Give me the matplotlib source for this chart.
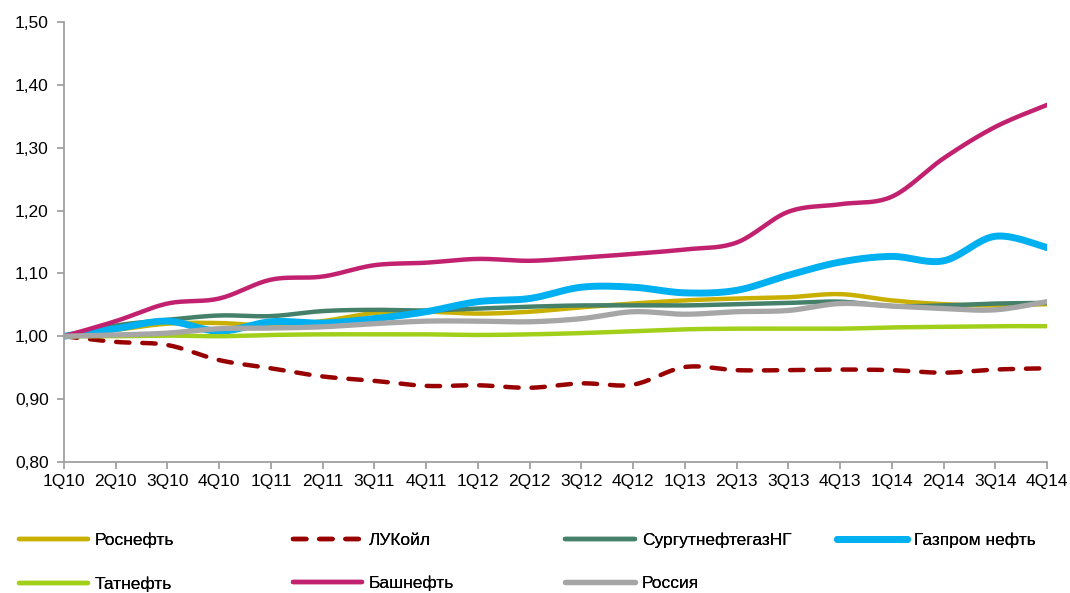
import numpy as np
import matplotlib
matplotlib.use('Agg')
import matplotlib.pyplot as plt
from matplotlib import font_manager

# Данные (индекс, 1Q10 = 1,00)
quarters = ['1Q10', '2Q10', '3Q10', '4Q10', '1Q11', '2Q11', '3Q11', '4Q11',
            '1Q12', '2Q12', '3Q12', '4Q12', '1Q13', '2Q13', '3Q13', '4Q13',
            '1Q14', '2Q14', '3Q14', '4Q14']

rosneft = [1.00, 1.010, 1.020, 1.021, 1.017, 1.024, 1.037, 1.039, 1.036, 1.039,
           1.046, 1.052, 1.057, 1.060, 1.062, 1.067, 1.057, 1.051, 1.049, 1.051]
lukoil = [1.00, 0.991, 0.986, 0.962, 0.949, 0.936, 0.929, 0.921, 0.922, 0.918,
          0.925, 0.923, 0.951, 0.946, 0.946, 0.947, 0.946, 0.942, 0.947, 0.949]
surgut = [1.00, 1.017, 1.026, 1.033, 1.032, 1.040, 1.042, 1.041, 1.044, 1.047,
          1.049, 1.049, 1.049, 1.051, 1.053, 1.055, 1.048, 1.049, 1.052, 1.053]
gazprom = [1.00, 1.012, 1.024, 1.008, 1.023, 1.021, 1.028, 1.039, 1.055, 1.060,
           1.078, 1.078, 1.069, 1.073, 1.097, 1.118, 1.127, 1.120, 1.159, 1.141]
tatneft = [1.00, 1.000, 1.001, 1.000, 1.002, 1.003, 1.003, 1.003, 1.002, 1.003,
           1.005, 1.008, 1.011, 1.012, 1.012, 1.012, 1.014, 1.015, 1.016, 1.016]
bashneft = [1.00, 1.024, 1.052, 1.060, 1.090, 1.095, 1.113, 1.117, 1.123, 1.120,
            1.125, 1.131, 1.138, 1.149, 1.198, 1.210, 1.222, 1.283, 1.333, 1.368]
russia = [1.00, 1.002, 1.005, 1.012, 1.013, 1.015, 1.020, 1.024, 1.024, 1.023,
          1.028, 1.039, 1.035, 1.039, 1.041, 1.052, 1.048, 1.044, 1.042, 1.055]

names = ['Роснефть', 'ЛУКойл', 'СургутнефтегазНГ', 'Газпром нефть',
         'Татнефть', 'Башнефть', 'Россия']
series = [rosneft, lukoil, surgut, gazprom, tatneft, bashneft, russia]
colors = ['#C9B000', '#990000', '#44806A', '#00B0F0', '#A2CF1A', '#C2216F', '#A6A6A6']
widths = [3.2, 3.2, 3.2, 5.0, 3.2, 3.2, 3.8]

# шрифт
avail = {f.name for f in font_manager.fontManager.ttflist}
fam = [f for f in ['Liberation Sans Narrow', 'Liberation Sans', 'DejaVu Sans'] if f in avail]
plt.rcParams['font.family'] = fam
plt.rcParams['font.size'] = 12.5


def smooth(y, n=20):
    """Сглаживание как в Excel (Catmull-Rom через кривые Безье)."""
    x = np.arange(len(y), dtype=float)
    y = np.asarray(y, dtype=float)
    xp = np.concatenate([[x[0]], x, [x[-1]]])
    yp = np.concatenate([[y[0]], y, [y[-1]]])
    t = np.linspace(0, 1, n)[:, None]
    xs, ys = [], []
    for i in range(len(y) - 1):
        p0 = np.array([xp[i + 1], yp[i + 1]])
        p3 = np.array([xp[i + 2], yp[i + 2]])
        p1 = p0 + (p3 - np.array([xp[i], yp[i]])) / 6
        p2 = p3 - (np.array([xp[i + 3], yp[i + 3]]) - p0) / 6
        b = ((1 - t) ** 3) * p0 + 3 * ((1 - t) ** 2) * t * p1 + 3 * (1 - t) * t ** 2 * p2 + t ** 3 * p3
        xs.append(b[:, 0])
        ys.append(b[:, 1])
    return np.concatenate(xs), np.concatenate(ys)


fig = plt.figure(figsize=(10.70, 5.93), dpi=100)
ax = fig.add_axes([0.0598, 0.221, 0.9187, 0.742])

lines = []
for name, s, c, w in zip(names, series, colors, widths):
    xs, ys = smooth(s)
    if name == 'ЛУКойл':
        ln, = ax.plot(xs, ys, color=c, lw=w, dashes=(3.0, 2.9),
                      dash_capstyle='round', label=name)
    else:
        ln, = ax.plot(xs, ys, color=c, lw=w, solid_capstyle='round', label=name)
    lines.append(ln)

ax.set_xlim(0, len(quarters) - 1)
ax.set_ylim(0.80, 1.50)
ax.set_xticks(range(len(quarters)))
ax.set_xticklabels(quarters)
yt = np.arange(0.80, 1.501, 0.10)
ax.set_yticks(yt)
ax.set_yticklabels([f'{v:.2f}'.replace('.', ',') for v in yt])

for sp in ['top', 'right']:
    ax.spines[sp].set_visible(False)
for sp in ['left', 'bottom']:
    ax.spines[sp].set_color('#A0A0A0')
    ax.spines[sp].set_linewidth(1.3)
ax.tick_params(axis='both', colors='#A0A0A0', length=5, width=1.3,
               labelcolor='#000000', labelsize=12.5)
ax.tick_params(axis='x', pad=4)
ax.tick_params(axis='y', pad=6)

# легенда: 4 колонки, заполнение по строкам
col_x = [0.0175, 0.2735, 0.5285, 0.7825]
for j, x0 in enumerate(col_x):
    hs = [lines[k] for k in (j, j + 4) if k < len(lines)]
    leg = fig.legend(handles=hs, loc='upper left', bbox_to_anchor=(x0, 0.1015),
                     frameon=False, handlelength=4.0, handletextpad=0.4,
                     labelspacing=1.6, borderpad=0, borderaxespad=0,
                     fontsize=12.5)
    fig.add_artist(leg)

fig.savefig('out.png', dpi=100)
